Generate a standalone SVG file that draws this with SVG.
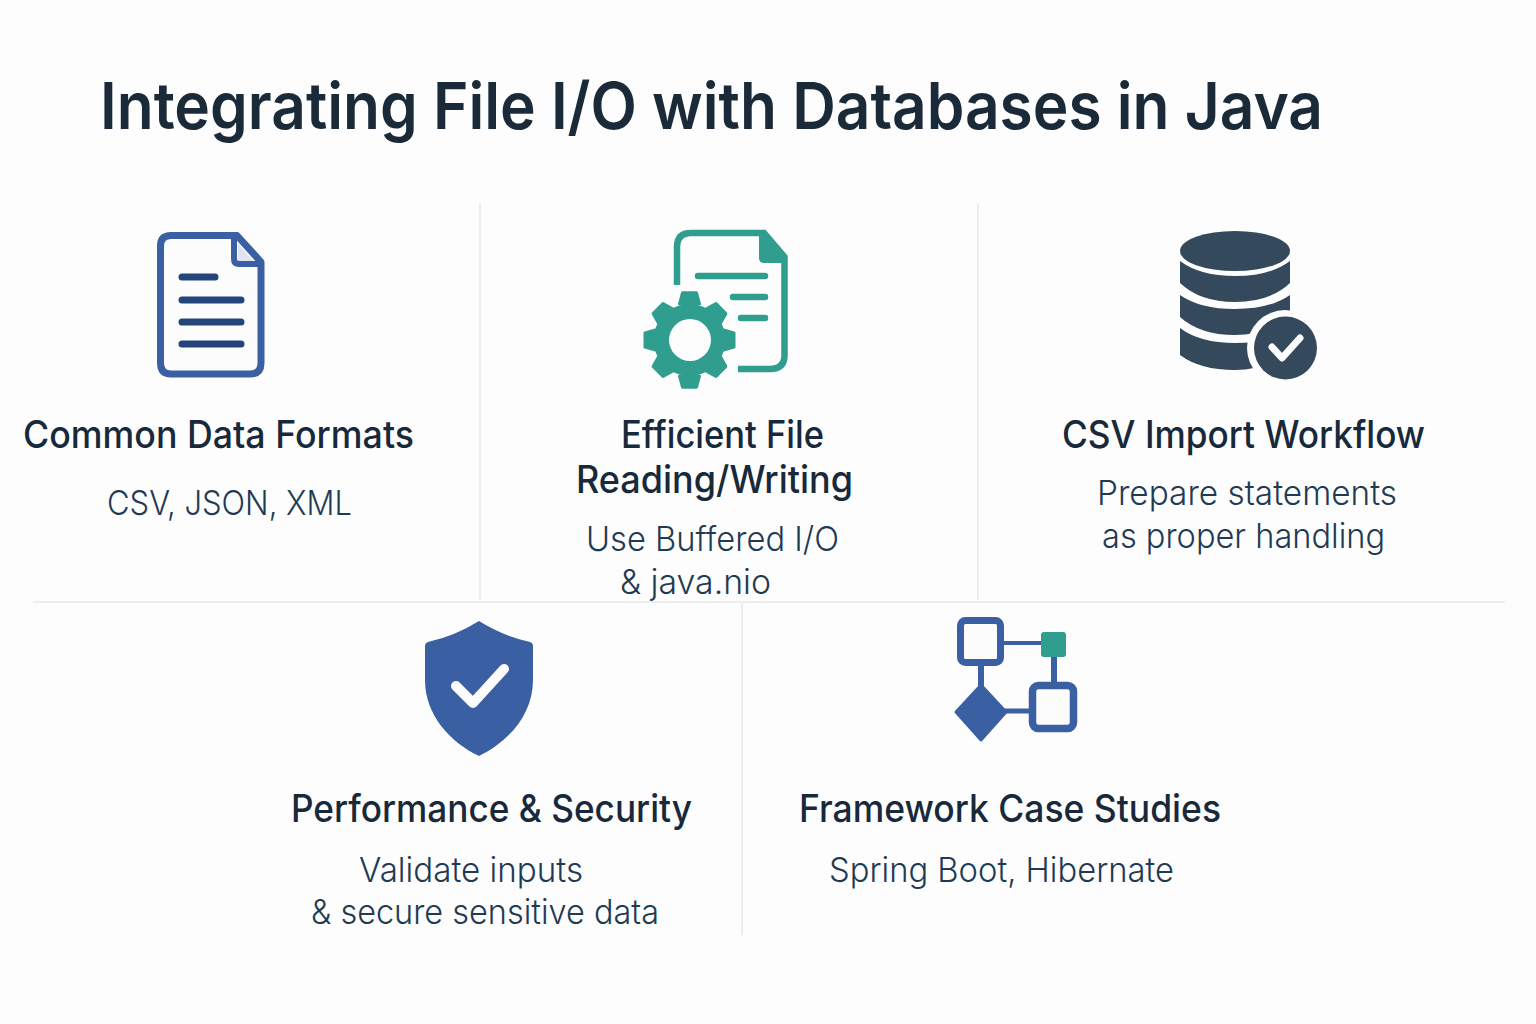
<svg xmlns="http://www.w3.org/2000/svg" xmlns:xlink="http://www.w3.org/1999/xlink" width="1536" height="1024" viewBox="0 0 1536 1024">
<style>
text{font-family:Inter,Roboto,"Liberation Sans",sans-serif}
.t{font-size:65px;font-weight:600;fill:#1a2a38}
.h{font-size:37.500px;font-weight:500;fill:#17293a}
.b{font-size:34px;font-weight:300;fill:#1f3b54}
.sep{stroke:#e6e9eb;stroke-width:1.5;fill:none}
.bl{fill:#3a5fa3}
.db{fill:#34495c}
.gr{fill:#2f9e8e}
.ln{stroke-linecap:round;fill:none}
</style>
<defs><path id="tooth" d="M-10 -34L-7 -44.500L7 -44.500L10 -34Z" fill="#2f9e8e" stroke="#2f9e8e" stroke-width="3" stroke-linejoin="round"/></defs>
<rect width="1536" height="1024" fill="#fdfdfd"/>
<text id="title" class="t" x="100" y="129" textLength="1223" lengthAdjust="spacingAndGlyphs">Integrating File I/O with Databases in Java</text>
<g id="separators">
<path class="sep" d="M480 203V600M978 203V600M33 602H1505M742 603V935"/>
</g>
<g id="node-formats">
<path d="M170 235.500H237L261 262V363Q261 374 250 374H171Q160.500 374 160.500 363V246Q160.500 235.500 171 235.500Z" fill="#fcfcfd" stroke="#3a5fa3" stroke-width="7" stroke-linejoin="round"/>
<path d="M238 243L253 261H238Z" fill="#dfe5f0"/>
<path d="M234 235V259Q234 264 239 264H261" fill="none" stroke="#3a5fa3" stroke-width="6"/>
<path class="ln" stroke="#24457c" stroke-width="7" d="M182 277H215M182 300H241M182 322H241M182 344H241"/>
<text class="h" x="23" y="447.500" textLength="391" lengthAdjust="spacingAndGlyphs">Common Data Formats</text>
<text class="b" x="107" y="515" textLength="245" lengthAdjust="spacingAndGlyphs">CSV, JSON, XML</text>
</g>
<g id="node-reading">
<path d="M677 285V247Q677 233 691 233H764L784.500 257V355Q784.500 369 770 369H738" fill="none" stroke="#2f9e8e" stroke-width="6.500"/>
<path class="gr" d="M759 233H766L787 256V263H764Q759 263 759 258Z"/>
<path class="ln" stroke="#2f9e8e" stroke-width="6.500" d="M698 276H765M733 297H765M741 318H765"/>
<circle cx="689.500" cy="340" r="36" class="gr"/>
<g transform="translate(689.500 340)">
<use xlink:href="#tooth" transform="scale(1 1.060)"/>
<use xlink:href="#tooth" transform="rotate(45)"/>
<use xlink:href="#tooth" transform="rotate(90)"/>
<use xlink:href="#tooth" transform="rotate(135)"/>
<use xlink:href="#tooth" transform="rotate(180) scale(1 1.060)"/>
<use xlink:href="#tooth" transform="rotate(225)"/>
<use xlink:href="#tooth" transform="rotate(270)"/>
<use xlink:href="#tooth" transform="rotate(315)"/>
</g>
<circle cx="690" cy="340" r="21" fill="#fdfdfd"/>
<text class="h" x="621" y="447.500" textLength="203" lengthAdjust="spacingAndGlyphs">Efficient File</text>
<text class="h" x="576" y="492.500" textLength="277" lengthAdjust="spacingAndGlyphs">Reading/Writing</text>
<text class="b" x="586" y="551" textLength="253" lengthAdjust="spacingAndGlyphs">Use Buffered I/O</text>
<text class="b" x="620" y="594" textLength="151" lengthAdjust="spacingAndGlyphs">&amp; java.nio</text>
</g>
<g id="node-csv">
<path class="db" d="M1180 261Q1200 276 1235 276Q1270 276 1290 261V283Q1270 302 1235 302Q1200 302 1180 283Z"/>
<path class="db" d="M1180 295Q1200 309 1235 309Q1270 309 1290 295V317Q1270 335 1235 335Q1200 335 1180 317Z"/>
<path class="db" d="M1180 328Q1200 343 1235 343Q1270 343 1290 328V345Q1270 370 1235 370Q1200 370 1180 355Z"/>
<ellipse class="db" cx="1235" cy="251" rx="55" ry="20"/>
<circle cx="1285" cy="348" r="38" fill="#fdfdfd"/>
<circle class="db" cx="1285.500" cy="348" r="31.500"/>
<path class="ln" stroke="#fdfdfd" stroke-width="7" stroke-linejoin="round" d="M1272 347L1282 358L1300 338"/>
<text class="h" x="1062" y="447.500" textLength="363" lengthAdjust="spacingAndGlyphs">CSV Import Workflow</text>
<text class="b" x="1097" y="505" textLength="300" lengthAdjust="spacingAndGlyphs">Prepare statements</text>
<text class="b" x="1102" y="547.500" textLength="283" lengthAdjust="spacingAndGlyphs">as proper handling</text>
</g>
<g id="node-security">
<path class="bl" d="M479 621Q455 636 428 642Q425 643 425 646V680C425 715 450 742 479 756C508 742 533 715 533 680V646Q533 643 530 642Q503 636 479 621Z"/>
<path class="ln" stroke="#fdfdfd" stroke-width="10" stroke-linejoin="round" d="M456 686L473 703L504 669"/>
<text class="h" x="291" y="821.500" textLength="401" lengthAdjust="spacingAndGlyphs">Performance &amp; Security</text>
<text class="b" x="359" y="882" textLength="224" lengthAdjust="spacingAndGlyphs">Validate inputs</text>
<text class="b" x="311" y="924" textLength="348" lengthAdjust="spacingAndGlyphs">&amp; secure sensitive data</text>
</g>
<g id="node-framework">
<g id="connectors" fill="none" stroke="#3a5fa3">
<path stroke-width="4" d="M1004 643H1041"/>
<path stroke-width="6" d="M981 666V690M1054 657V682"/>
<path stroke-width="5" d="M1005 711H1029"/>
</g>
<rect x="960.500" y="620.500" width="40" height="42" rx="5" fill="#fcfcfd" stroke="#3a5fa3" stroke-width="7"/>
<rect x="1032.500" y="685.500" width="41" height="43" rx="6" fill="#fcfcfd" stroke="#3a5fa3" stroke-width="7.500"/>
<rect x="1041" y="632" width="25" height="25" rx="3" class="gr"/>
<path class="bl" d="M981 685L1006 712L981 740L956 712Z" stroke="#3a5fa3" stroke-width="3" stroke-linejoin="round"/>
<text class="h" x="799" y="821.500" textLength="422" lengthAdjust="spacingAndGlyphs">Framework Case Studies</text>
<text class="b" x="829" y="882" textLength="345" lengthAdjust="spacingAndGlyphs">Spring Boot, Hibernate</text>
</g>
</svg>
